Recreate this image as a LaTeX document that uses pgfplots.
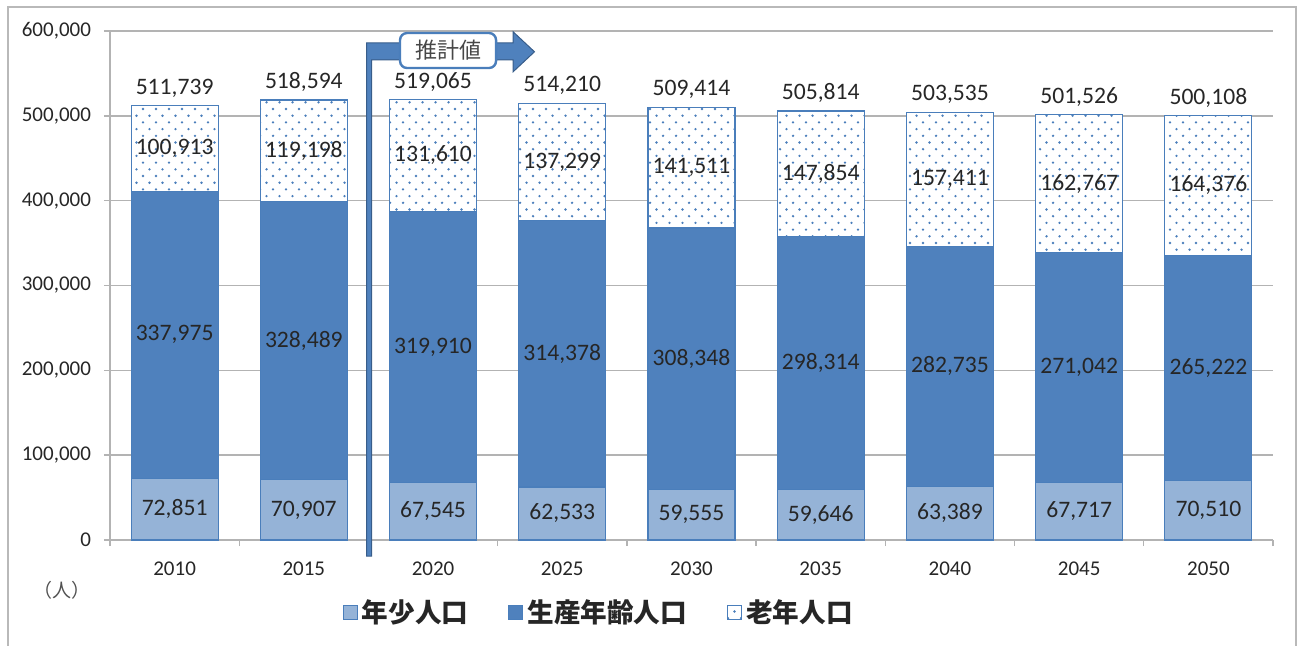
\documentclass[border=0pt]{standalone}
\usepackage{fontspec}
\setmainfont{Carlito}
\newfontfamily\cjk{Noto Sans CJK JP}
\usepackage{pgfplots}
\pgfplotsset{compat=1.18}
\usepackage{pgfplotstable}
\usetikzlibrary{patterns}

\pgfdeclarepatternformonly{sparsedots}{\pgfqpoint{-1pt}{-1pt}}{\pgfqpoint{7.5pt}{7.7pt}}{\pgfqpoint{6.5pt}{6.7pt}}{%
  \pgfpathcircle{\pgfqpoint{0pt}{0pt}}{0.65pt}%
  \pgfpathcircle{\pgfqpoint{3.25pt}{3.35pt}}{0.65pt}%
  \pgfusepath{fill}}

\definecolor{young}{HTML}{95B3D7}
\definecolor{work}{HTML}{4F81BD}
\definecolor{edge}{HTML}{4A7EBB}
\definecolor{darkedge}{HTML}{385D8A}
\definecolor{gridc}{HTML}{B3B3B3}
\definecolor{txt}{HTML}{262626}

\pgfplotstableread{
x young work old total
0 72851 337975 100913 511739
1 70907 328489 119198 518594
2 67545 319910 131610 519065
3 62533 314378 137299 514210
4 59555 308348 141511 509414
5 59646 298314 147854 505814
6 63389 282735 157411 503535
7 67717 271042 162767 501526
8 70510 265222 164376 500108
}\data

\begin{document}
\begin{tikzpicture}[x=1pt,y=1pt]
\path[use as bounding box] (0,0) rectangle (652,322.5);
\draw[gray!55, line width=1pt] (4,-5) -- (4,319) -- (648,319) -- (648,-5);
\node[font=\cjk\fontsize{9.5}{11}\selectfont, text=txt!80] at (31,27.5) {（人）};
\begin{axis}[
  at={(55pt,52.5pt)}, anchor=south west, scale only axis,
  width=581.5pt, height=254.5pt,
  ybar stacked, bar width=43.5pt,
  xmin=-0.5, xmax=8.5, ymin=0, ymax=600000,
  clip=false,
  xtick={0,...,8},
  xticklabels={2010,2015,2020,2025,2030,2035,2040,2045,2050},
  minor xtick={-0.5,0.5,...,8.5},
  ytick={0,100000,...,600000},
  scaled y ticks=false,
  yticklabel={\pgfmathprintnumber[fixed,precision=0,1000 sep={,},assume math mode=true]{\tick}},
  ymajorgrids, grid style={gridc, line width=0.7pt},
  axis lines*=left,
  axis line style={gridc, line width=0.7pt},
  tick align=outside,
  major tick length=3pt, minor tick length=3pt,
  tick style={gridc, line width=0.7pt},
  every major x tick/.append style={draw=none},
  ticklabel style={font=\fontsize{10.5}{12}\selectfont, text=txt},
  yticklabel style={xshift=-3pt},
  xticklabel style={yshift=-4.5pt},
  legend style={at={(0.421,-0.143)}, anchor=center, draw=none,
    font=\cjk\bfseries\fontsize{13.3}{15}\selectfont, text=txt,
    /tikz/every even column/.append style={column sep=18pt}},
  legend columns=3,
  legend image code/.code={\draw[#1] (0pt,-3.5pt) rectangle (7pt,3.5pt);},
]
\addplot[fill=young, draw=edge, line width=0.6pt] table[x=x,y=young]{\data};
\addlegendentry{年少人口}
\addplot[fill=work, draw=edge, line width=0.6pt] table[x=x,y=work]{\data};
\addlegendentry{生産年齢人口}
\addplot[fill=white, draw=edge, line width=0.6pt, postaction={pattern=sparsedots, pattern color=edge}] table[x=x,y=old]{\data};
\addlegendentry{老年人口}
\filldraw[fill=work, draw=darkedge, line width=0.5pt]
  (axis cs:1.485,-19000) -- (axis cs:1.485,586000) -- (axis cs:2.62,586000)
  -- (axis cs:2.62,599000) -- (axis cs:2.785,575500) -- (axis cs:2.62,552000)
  -- (axis cs:2.62,566000) -- (axis cs:1.525,566000) -- (axis cs:1.525,-19000) -- cycle;
\end{axis}
\begin{axis}[
  at={(55pt,52.5pt)}, anchor=south west, scale only axis,
  width=581.5pt, height=254.5pt,
  xmin=-0.5, xmax=8.5, ymin=0, ymax=600000,
  hide axis, clip=false,
  point meta=explicit,
  nodes near coords={\pgfmathprintnumber[fixed,precision=0,1000 sep={,},assume math mode=true]{\pgfplotspointmeta}},
  every node near coord/.append style={font=\fontsize{11.8}{13}\selectfont, text=txt, anchor=center, inner sep=0pt},
]
\addplot[draw=none, mark=none]
  table[x=x, y expr=\thisrow{young}/2, meta=young]{\data};
\addplot[draw=none, mark=none]
  table[x=x, y expr=\thisrow{young}+\thisrow{work}/2, meta=work]{\data};
\addplot[draw=none, mark=none]
  table[x=x, y expr=\thisrow{young}+\thisrow{work}+\thisrow{old}/2, meta=old]{\data};
\addplot[draw=none, mark=none,
  every node near coord/.append style={yshift=9pt}]
  table[x=x, y=total, meta=total]{\data};
\node[draw=edge, line width=1.2pt, fill=white, rounded corners=3.5pt,
  minimum width=48pt, minimum height=17.5pt, inner sep=0pt,
  font=\cjk\fontsize{11}{12}\selectfont, text=txt!85] at (axis cs:2.116,577000) {推計値};
\end{axis}
\end{tikzpicture}
\end{document}
